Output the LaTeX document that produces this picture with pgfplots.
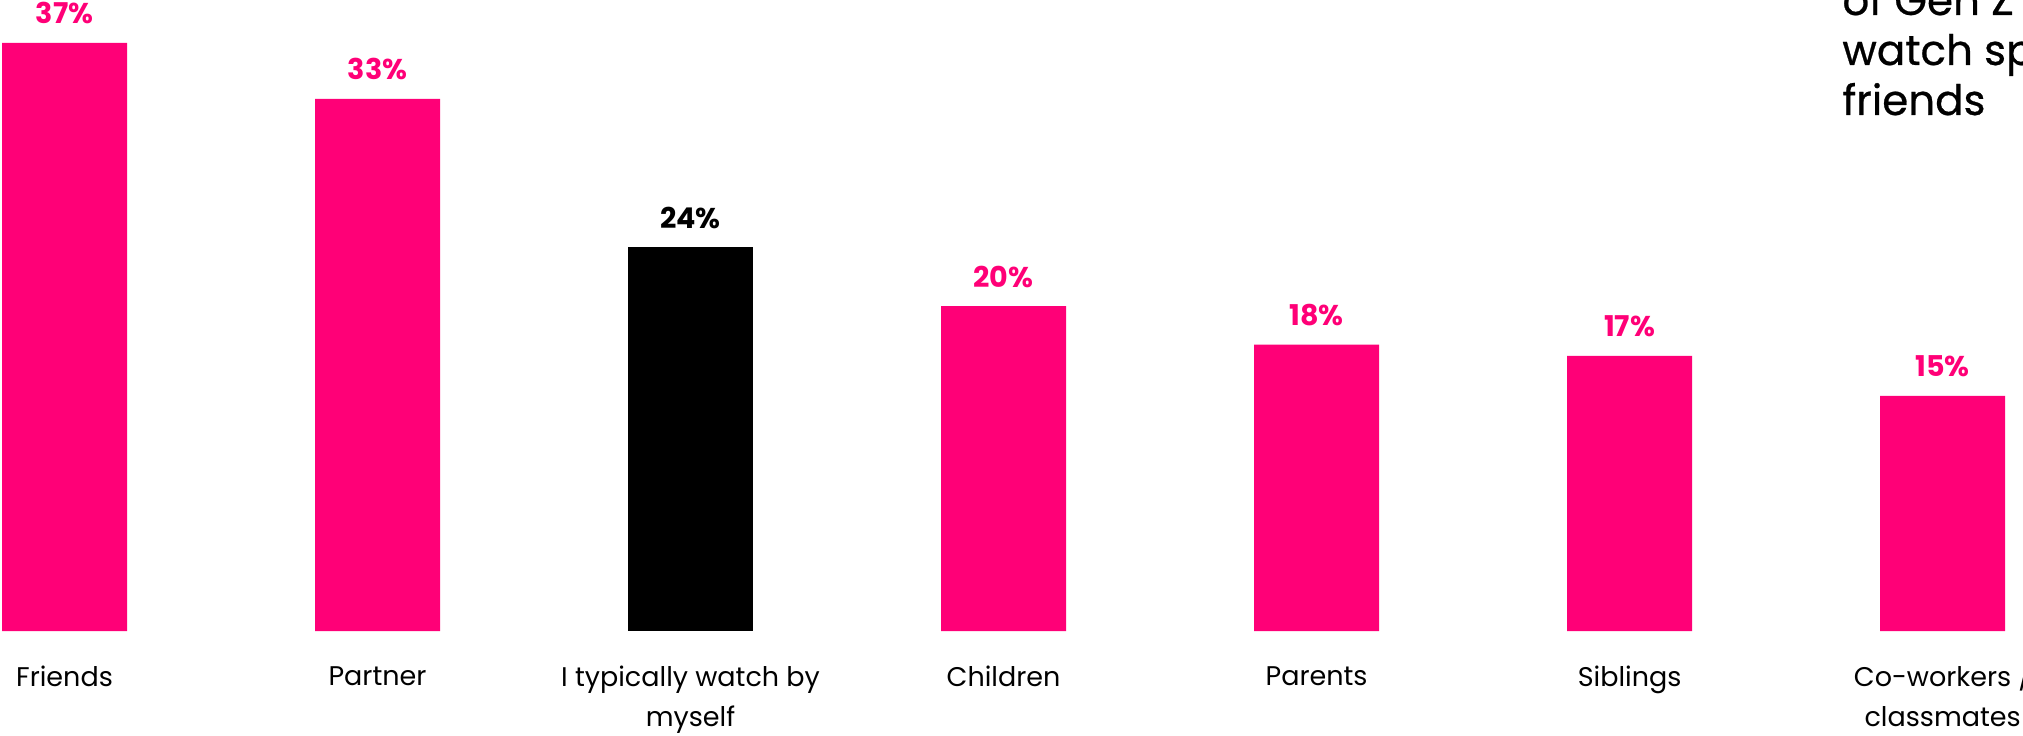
\documentclass[border=0pt]{standalone}
\usepackage{pgfplots}
\pgfplotsset{compat=1.18}
\usepackage{fontspec}
\setmainfont{Poppins}
\definecolor{hotpink}{RGB}{255,0,119}
\begin{document}
\begin{tikzpicture}
\useasboundingbox (0pt,0pt) rectangle (1011.5pt,367.5pt);
\clip (0pt,0pt) rectangle (1011.5pt,367.5pt);
\begin{axis}[
  at={(0pt,52pt)}, anchor=south west,
  scale only axis, width=1011.5pt, height=315.5pt,
  xmin=-0.20607, xmax=6.25719, ymin=0, ymax=39.4375,
  axis line style={draw=none}, major tick length=0pt,
  ytick=\empty,
  xtick={0,...,6},
  xticklabels={Friends, Partner, {I typically watch by\\myself}, Children, Parents, Siblings, {Co-workers \smash{/}\\classmates}},
  xticklabel style={font=\fontsize{13.5}{20}\selectfont, align=center, anchor=north, inner sep=0pt, yshift=-17.5pt},
  ybar, bar width=62.5pt, bar shift=0pt,
  clip=false,
  point meta=explicit symbolic,
  nodes near coords,
  every node near coord/.append style={font=\fontsize{14.3}{17}\selectfont\bfseries, anchor=base, inner sep=0pt, yshift=9.5pt},
]
\addplot[fill=hotpink, draw=none, every node near coord/.append style={text=hotpink}] coordinates {
  (0,36.75) [37\%]
  (1,33.25) [33\%]
  (3,20.3) [20\%]
  (4,17.9) [18\%]
  (5,17.2) [17\%]
  (6,14.7) [15\%]
};
\addplot[fill=black, draw=none, every node near coord/.append style={text=black}] coordinates {
  (2,24.0) [24\%]
};
\end{axis}
\begin{scope}[every node/.style={overlay, anchor=base west, inner sep=0pt, font=\fontsize{21}{25}\selectfont\addfontfeature{FakeBold=0.6}}]
\node at (921pt,360pt) {of Gen Z};
\node at (921pt,335pt) {watch sports with};
\node at (921pt,310pt) {friends};
\end{scope}
\end{tikzpicture}
\end{document}
